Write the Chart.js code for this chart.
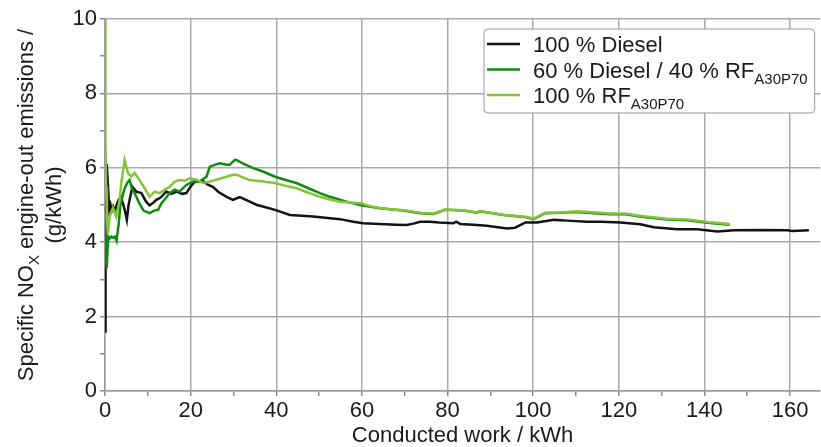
<!DOCTYPE html>
<html><head><meta charset="utf-8">
<script src="https://cdn.jsdelivr.net/npm/chart.js@4"></script>
<style>html,body{margin:0;padding:0;background:#fff}#wrap{width:821px;height:447px}</style>
</head><body><div id="wrap"><canvas id="c" width="821" height="447"></canvas></div>
<script>
// ---- data ----
const dieselX = [0, 0.05, 0.2, 0.4, 0.7, 1.0, 1.3, 1.6, 1.9, 2.3,
  2.7, 3.2, 3.8, 4.3, 4.6, 5.1, 5.5, 5.9, 6.4, 7.3,
  8.5, 9.6, 10.4, 11.2, 12, 13, 14.3, 15.5, 16.7, 18,
  19, 20, 21, 22, 22.8, 24, 25.2, 26.5, 28.4, 29.9,
  31.5, 33.8, 35.5, 36.9, 39.7, 43.2, 46, 48.6, 52, 54.9,
  58, 60.3, 64.2, 68, 70.5, 72, 73.6, 75.9, 78, 81.4,
  82, 83, 86, 89.2, 93.9, 95.8, 98.2, 100.9, 104.8, 108,
  112.6, 116, 120.4, 125, 128.2, 133.6, 138.3, 143, 146.9, 153.1,
  159.4, 160.5, 164.4];
const dieselY = [1.6, 3.0, 5.0, 6.1, 5.5, 4.87, 5.0, 4.85, 4.95, 4.82,
  5.0, 5.14, 5.2, 5.0, 4.87, 4.6, 5.0, 5.22, 5.49, 5.36,
  5.32, 5.09, 4.99, 5.05, 5.14, 5.2, 5.36, 5.3, 5.36, 5.3,
  5.32, 5.5, 5.63, 5.63, 5.65, 5.55, 5.49, 5.35, 5.22, 5.14,
  5.21, 5.09, 5.0, 4.96, 4.87, 4.73, 4.71, 4.69, 4.65, 4.62,
  4.55, 4.51, 4.49, 4.47, 4.46, 4.5, 4.55, 4.55, 4.53, 4.51,
  4.55, 4.49, 4.47, 4.44, 4.37, 4.39, 4.53, 4.53, 4.6, 4.58,
  4.55, 4.55, 4.53, 4.48, 4.4, 4.35, 4.35, 4.29, 4.32, 4.33,
  4.32, 4.3, 4.32];

const blendX = [0, 0.1, 0.25, 0.4, 0.6, 0.8, 1.1, 1.5, 1.9, 2.3,
  2.7, 3.2, 3.6, 4.1, 4.6, 5.2, 5.75, 6.3, 7.0, 8.0,
  9.0, 10.4, 11.5, 12.4, 13.2, 13.9, 15.1, 16.3, 17.4, 19,
  20.6, 22.1, 23.7, 24.5, 25.6, 26.8, 28.4, 29.1, 30.3, 30.7,
  32.3, 34.6, 36.9, 39.7, 42, 44.7, 47.5, 50.2, 52.5, 54.9,
  57, 59.6, 62, 64.2, 67, 69.7, 73.6, 76.7, 79.4, 83.7,
  86.9, 87.5, 93.1, 98.5, 100.1, 102.8, 106.3, 110.2, 114.9, 118,
  121.5, 125.8, 131.3, 136, 140.7, 145.9];
const blendY = [4.8, 3.4, 3.9, 3.3, 3.8, 4.15, 4.1, 4.15, 4.12, 4.15,
  4.04, 4.5, 5.0, 5.25, 5.45, 5.6, 5.67, 5.45, 5.3, 5.05,
  4.85, 4.78, 4.85, 4.87, 5.05, 5.14, 5.32, 5.41, 5.36, 5.54,
  5.63, 5.63, 5.76, 6.03, 6.08, 6.12, 6.08, 6.08, 6.21, 6.21,
  6.11, 5.99, 5.9, 5.76, 5.68, 5.59, 5.45, 5.32, 5.22, 5.14,
  5.07, 5.0, 4.95, 4.91, 4.88, 4.85, 4.78, 4.76, 4.87, 4.85,
  4.79, 4.83, 4.73, 4.67, 4.62, 4.78, 4.79, 4.81, 4.77, 4.75,
  4.75, 4.68, 4.61, 4.59, 4.52, 4.47];

const rfX = [0, 0.05, 0.1, 0.14, 0.25, 0.45, 0.69, 1.08, 1.86, 2.64,
  3.42, 3.8, 4.58, 5.36, 6.14, 6.92, 8.09, 9.26, 10.4, 11.6,
  12.8, 13.9, 15.1, 16.3, 17.4, 18.6, 19.8, 21.4, 22.9, 24.5,
  25.6, 27.2, 28.4, 29.9, 30.7, 33.8, 36.9, 39.7, 42, 44.7,
  47.5, 50.2, 52.5, 54.9, 57, 59.6, 62, 64.2, 67, 70,
  73.6, 76.7, 79.4, 83.7, 86.9, 87.5, 93.1, 98.5, 100.1, 102.8,
  106.3, 110.2, 114.9, 118, 121.5, 125.8, 131.3, 136, 140.7, 145.9];
const rfY = [10, 8.6, 7.5, 6.8, 5.5, 4.6, 4.24, 4.69, 4.92, 4.69,
  5.14, 5.59, 6.21, 5.86, 5.77, 5.86, 5.67, 5.45, 5.22, 5.36,
  5.32, 5.41, 5.49, 5.63, 5.67, 5.65, 5.72, 5.68, 5.59, 5.63,
  5.67, 5.72, 5.76, 5.81, 5.81, 5.67, 5.63, 5.59, 5.52, 5.45,
  5.33, 5.22, 5.15, 5.09, 5.07, 5.05, 4.97, 4.92, 4.88, 4.86,
  4.79, 4.77, 4.88, 4.86, 4.8, 4.84, 4.74, 4.68, 4.63, 4.79,
  4.8, 4.83, 4.8, 4.77, 4.77, 4.7, 4.63, 4.61, 4.54, 4.49];

const seriesNames = ['100 % Diesel', '60 % Diesel / 40 % RF', '100 % RF'];
const seriesSubs = ['', 'A30P70', 'A30P70'];
const seriesColors = ['#141414', '#118a11', '#86c23a'];
const xTickLabels = [0, 20, 40, 60, 80, 100, 120, 140, 160];
const yTickLabels = [0, 2, 4, 6, 8, 10];
const xTitle = 'Conducted work / kWh';
const yTitleMain = 'Specific NO';
const yTitleSub = 'X';
const yTitleRest = ' engine-out emissions /';
const yTitleLine2 = '(g/kWh)';

// ---- build ----
const FONT = '"Liberation Sans", Arial, sans-serif';
const TEXT = '#1a1a1a';
const GRID = '#aaaaaa';
const toPts = (xs, ys) => xs.map((x, i) => ({x: x, y: ys[i]}));

const overlay = {
  id: 'overlay',
  afterDraw(chart) {
    const ctx = chart.ctx;
    const area = chart.chartArea;
    // y-axis title with subscript
    ctx.save();
    ctx.fillStyle = TEXT;
    ctx.textBaseline = 'alphabetic';
    const midY = (area.top + area.bottom) / 2;
    ctx.translate(25, midY);
    ctx.rotate(-Math.PI / 2);
    ctx.font = '22px ' + FONT;
    const w1 = ctx.measureText(yTitleMain).width;
    const w3 = ctx.measureText(yTitleRest).width;
    ctx.font = '15px ' + FONT;
    const w2 = ctx.measureText(yTitleSub).width;
    let sx = -(w1 + w2 + w3) / 2;
    ctx.font = '22px ' + FONT;
    ctx.fillText(yTitleMain, sx, 8);
    ctx.font = '15px ' + FONT;
    ctx.fillText(yTitleSub, sx + w1, 14);
    ctx.font = '22px ' + FONT;
    ctx.fillText(yTitleRest, sx + w1 + w2, 8);
    ctx.restore();

    ctx.save();
    ctx.fillStyle = TEXT;
    ctx.textBaseline = 'alphabetic';
    ctx.textAlign = 'center';
    ctx.translate(53, midY);
    ctx.rotate(-Math.PI / 2);
    ctx.font = '22px ' + FONT;
    ctx.fillText(yTitleLine2, 0, 8);
    ctx.restore();

    // legend
    ctx.save();
    const rows = [44, 69.5, 95];
    const textX = 533;
    let maxR = 0;
    seriesNames.forEach((n, i) => {
      ctx.font = '22px ' + FONT;
      let w = ctx.measureText(n).width;
      ctx.font = '15px ' + FONT;
      if (seriesSubs[i]) w += ctx.measureText(seriesSubs[i]).width;
      maxR = Math.max(maxR, textX + w);
    });
    const bx = 484, by = 29, bw = maxR + 7 - bx, bh = 84, r = 4;
    ctx.beginPath();
    ctx.moveTo(bx + r, by);
    ctx.lineTo(bx + bw - r, by); ctx.arcTo(bx + bw, by, bx + bw, by + r, r);
    ctx.lineTo(bx + bw, by + bh - r); ctx.arcTo(bx + bw, by + bh, bx + bw - r, by + bh, r);
    ctx.lineTo(bx + r, by + bh); ctx.arcTo(bx, by + bh, bx, by + bh - r, r);
    ctx.lineTo(bx, by + r); ctx.arcTo(bx, by, bx + r, by, r);
    ctx.closePath();
    ctx.fillStyle = '#ffffff';
    ctx.fill();
    ctx.strokeStyle = '#9a9a9a';
    ctx.lineWidth = 1;
    ctx.stroke();
    seriesNames.forEach((n, i) => {
      const y = rows[i];
      ctx.strokeStyle = seriesColors[i];
      ctx.lineWidth = 2.5;
      ctx.beginPath(); ctx.moveTo(487, y); ctx.lineTo(520, y); ctx.stroke();
      ctx.fillStyle = TEXT;
      ctx.textBaseline = 'alphabetic';
      ctx.font = '22px ' + FONT;
      ctx.fillText(n, textX, y + 8);
      const w = ctx.measureText(n).width;
      if (seriesSubs[i]) {
        ctx.font = '15px ' + FONT;
        ctx.fillText(seriesSubs[i], textX + w, y + 14);
      }
    });
    ctx.restore();
  }
};

const ds = (label, xs, ys, color, order) => ({
  label: label, data: toPts(xs, ys), borderColor: color, backgroundColor: color,
  borderWidth: 2.5, pointRadius: 0, tension: 0, fill: false, order: order
});

new Chart(document.getElementById('c'), {
  type: 'line',
  data: {
    datasets: [
      ds(seriesNames[0], dieselX, dieselY, seriesColors[0], 2),
      ds(seriesNames[1] + seriesSubs[1], blendX, blendY, seriesColors[1], 1),
      ds(seriesNames[2] + seriesSubs[2], rfX, rfY, seriesColors[2], 0)
    ]
  },
  options: {
    responsive: false,
    animation: false,
    devicePixelRatio: 1,
    layout: {padding: {left: 0, right: 1, top: 19, bottom: 0}},
    plugins: {legend: {display: false}, tooltip: {enabled: false}},
    scales: {
      x: {
        type: 'linear', min: 0, max: 167,
        afterBuildTicks: s => {
          const t = [];
          for (let v = 0; v <= 160; v += 10) t.push({value: v});
          s.ticks = t;
        },
        afterFit: s => { s.height = 56; },
        ticks: {
          autoSkip: false, maxRotation: 0, padding: 2, color: TEXT,
          font: {size: 22, family: FONT},
          callback: v => xTickLabels.includes(v) ? String(v) : ''
        },
        grid: {
          color: c => (c.tick && xTickLabels.includes(c.tick.value)) ? GRID : 'rgba(0,0,0,0)',
          lineWidth: 1.5, tickColor: '#8a8a8a', tickLength: 5
        },
        border: {color: '#9a9a9a', width: 1.5},
        title: {display: true, text: xTitle, color: TEXT, font: {size: 22, family: FONT}, padding: {top: 0, bottom: -2}}
      },
      y: {
        type: 'linear', min: 0, max: 10,
        afterBuildTicks: s => {
          const t = [];
          for (let v = 0; v <= 10; v += 1) t.push({value: v});
          s.ticks = t;
        },
        afterFit: s => { s.width = 105; },
        ticks: {
          autoSkip: false, padding: 3, color: TEXT,
          font: {size: 22, family: FONT},
          callback: v => yTickLabels.includes(v) ? String(v) : ''
        },
        grid: {
          color: c => (c.tick && yTickLabels.includes(c.tick.value)) ? GRID : 'rgba(0,0,0,0)',
          lineWidth: 1.5, tickColor: '#8a8a8a', tickLength: 5
        },
        border: {color: '#9a9a9a', width: 1.5}
      }
    }
  },
  plugins: [overlay]
});
</script>
</body></html>
